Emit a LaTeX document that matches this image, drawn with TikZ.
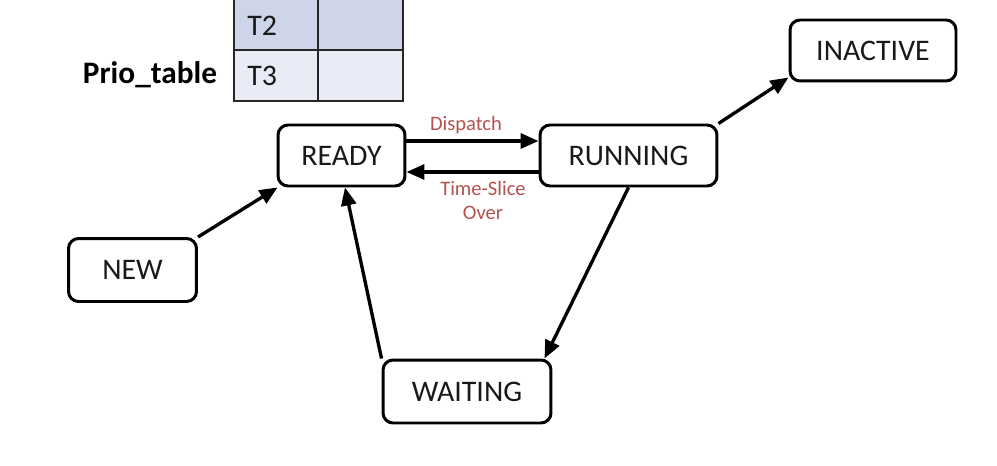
\documentclass[tikz,border=0pt]{standalone}
\usepackage{fontspec}
\setmainfont{Carlito}
\usetikzlibrary{arrows.meta}
\definecolor{lblred}{RGB}{180,82,80}
\definecolor{rowA}{RGB}{207,213,232}
\definecolor{rowB}{RGB}{233,236,246}
\tikzset{
  px/.style={x=0.02cm,y=-0.02cm},
  state/.style={draw=black,line width=1.7pt,rounded corners=0.2cm,inner sep=0pt,
    font=\fontsize{17}{19}\selectfont,text=black!90},
  conn/.style={line width=1.9pt,-{Triangle[length=0.36cm,width=0.3cm]}},
  lbl/.style={text=lblred,font=\fontsize{11.7}{13}\selectfont,inner sep=0pt},
  cell/.style={draw=black!85,line width=1.1pt},
  celltext/.style={font=\fontsize{17}{19}\selectfont,text=black!90,inner sep=0pt,anchor=west}
}
\begin{document}
\begin{tikzpicture}[px]
\useasboundingbox (0,0) rectangle (997,466);
% table
\path[cell,fill=rowA] (234,-2) rectangle (318,50);
\path[cell,fill=rowA] (318,-2) rectangle (403,50);
\path[cell,fill=rowB] (234,50) rectangle (318,101);
\path[cell,fill=rowB] (318,50) rectangle (403,101);
\node[celltext] (t2) at (247,26) {T2};
\node[celltext] (t3) at (247,76) {T3};
\node[font=\bfseries\fontsize{17.8}{19}\selectfont,inner sep=0pt] (prio) at (150,75) {Prio\_table};
% states
\node[state,minimum width=2.54cm,minimum height=1.22cm] (ready) at (341.5,155.5) {READY};
\node[state,minimum width=3.54cm,minimum height=1.22cm] (running) at (628.5,155.5) {RUNNING};
\node[state,minimum width=3.32cm,minimum height=1.22cm] (inactive) at (873,50.5) {INACTIVE};
\node[state,minimum width=2.56cm,minimum height=1.26cm] (new) at (132.5,270) {NEW};
\node[state,minimum width=3.36cm,minimum height=1.26cm] (waiting) at (467,391.5) {WAITING};
% connectors
\draw[conn] ([yshift=0.29cm]ready.east) -- ([yshift=0.29cm]running.west);
\draw[conn] ([yshift=-0.33cm]running.west) -- ([yshift=-0.33cm]ready.east);
\draw[conn] (new.north east) -- ([xshift=0.02cm]ready.south west);
\draw[conn] (running.north east) -- ([yshift=0.1cm]inactive.south west);
\draw[conn] (running.south) -- ([xshift=-0.16cm]waiting.north east);
\draw[conn] (waiting.north west) -- ([xshift=0.07cm]ready.south);
% labels
\node[lbl] (ldispatch) at (466,125) {Dispatch};
\node[lbl] (ltime) at (483,188) {Time-Slice};
\node[lbl] (lover) at (483,213) {Over};
\end{tikzpicture}
\end{document}
